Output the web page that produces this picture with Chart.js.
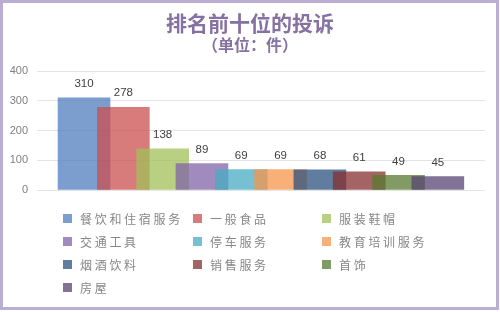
<!DOCTYPE html>
<html>
<head>
<meta charset="utf-8">
<script src="https://cdn.jsdelivr.net/npm/chart.js@4/dist/chart.umd.min.js"></script>
<style>
  html, body { margin: 0; padding: 0; background: #fff; }
  #wrap { position: relative; width: 500px; height: 312px; overflow: hidden; background: #fff; }
  #c { position: absolute; left: 0; top: 0; }
  #frame { position: absolute; left: 0; top: 0; width: 499px; height: 310px; box-sizing: border-box;
           border: 3px solid #bcadd3; pointer-events: none; }
  .ttl { position: absolute; left: 0; width: 500px; text-align: center; color: #8571a2;
         font-family: "Noto Sans CJK SC", sans-serif; font-weight: bold; white-space: nowrap; }
  #title { top: 8px; font-size: 21px; line-height: 28px; }
  #subtitle { top: 34px; font-size: 16px; line-height: 20px; }
  #legend { position: absolute; left: 63px; top: 208px; display: grid;
            grid-template-columns: 130px 129px 140px; grid-auto-rows: 23.3px; }
  .item { display: flex; align-items: center; height: 20px; white-space: nowrap; }
  .box { width: 9px; height: 9px; margin-right: 8px; flex: none; }
  .lbl { font-family: "Noto Sans CJK SC", sans-serif; font-size: 12px; letter-spacing: 2.7px; color: #868686; }
</style>
</head>
<body>
<div id="wrap">
  <canvas id="c" width="500" height="312"></canvas>
  <div id="title" class="ttl"></div>
  <div id="subtitle" class="ttl"></div>
  <div id="legend"></div>
  <div id="frame"></div>
</div>
<script>
const chartTitle = "排名前十位的投诉";
const chartSubtitle = "（单位：件）";
const categories = ["餐饮和住宿服务", "一般食品", "服装鞋帽", "交通工具", "停车服务",
                    "教育培训服务", "烟酒饮料", "销售服务", "首饰", "房屋"];
const values = [310, 278, 138, 89, 69, 69, 68, 61, 49, 45];
const yTicks = [0, 100, 200, 300, 400];

// colours as they appear on white
const swatchColors = ["#7c9ece", "#d77b7b", "#b9d083", "#a18bbe", "#75c0d3",
                      "#f8b078", "#607da0", "#a56464", "#829b64", "#827396"];
const ALPHA = 0.75;
function barColor(hex) {
  const r = parseInt(hex.slice(1, 3), 16), g = parseInt(hex.slice(3, 5), 16), b = parseInt(hex.slice(5, 7), 16);
  const f = c => Math.max(0, Math.round((c - 255 * (1 - ALPHA)) / ALPHA));
  return `rgba(${f(r)},${f(g)},${f(b)},${ALPHA})`;
}

document.getElementById('title').textContent = chartTitle;
document.getElementById('subtitle').textContent = chartSubtitle;
const legend = document.getElementById('legend');
categories.forEach((name, i) => {
  const it = document.createElement('div'); it.className = 'item';
  const bx = document.createElement('span'); bx.className = 'box'; bx.style.background = swatchColors[i];
  const lb = document.createElement('span'); lb.className = 'lbl'; lb.textContent = name;
  it.appendChild(bx); it.appendChild(lb); legend.appendChild(it);
});

const valueLabels = {
  id: 'valueLabels',
  afterDatasetsDraw(chart) {
    const ctx = chart.ctx;
    ctx.save();
    ctx.font = '11.5px "Liberation Sans", Arial, sans-serif';
    ctx.fillStyle = '#404040';
    ctx.textAlign = 'center';
    ctx.textBaseline = 'middle';
    chart.data.datasets.forEach((ds, i) => {
      const el = chart.getDatasetMeta(i).data[0];
      if (el) ctx.fillText(String(ds.data[0].y), el.x, el.y - 14);
    });
    ctx.restore();
  }
};

new Chart(document.getElementById('c'), {
  type: 'bar',
  data: {
    datasets: categories.map((name, i) => ({
      label: name,
      data: [{ x: i, y: values[i] }],
      backgroundColor: barColor(swatchColors[i]),
      borderWidth: 0,
      barThickness: 52,
      grouped: false,
      order: categories.length - 1 - i
    }))
  },
  options: {
    responsive: false,
    animation: false,
    devicePixelRatio: 1,
    layout: { padding: { top: 71, bottom: 122, left: 0, right: 15 } },
    plugins: { legend: { display: false }, title: { display: false }, tooltip: { enabled: false } },
    scales: {
      x: { type: 'linear', display: false, offset: false, min: -1.196, max: 10.2 },
      y: {
        min: 0, max: 400,
        afterBuildTicks: s => { s.ticks = yTicks.map(v => ({ value: v })); },
        afterFit: s => { s.width = 37; },
        border: { display: false },
        grid: { color: '#e4e4e4', drawTicks: false },
        ticks: { padding: 9, color: '#808080', font: { family: '"Liberation Sans", Arial, sans-serif', size: 11 } }
      }
    }
  },
  plugins: [valueLabels]
});
</script>
</body>
</html>
